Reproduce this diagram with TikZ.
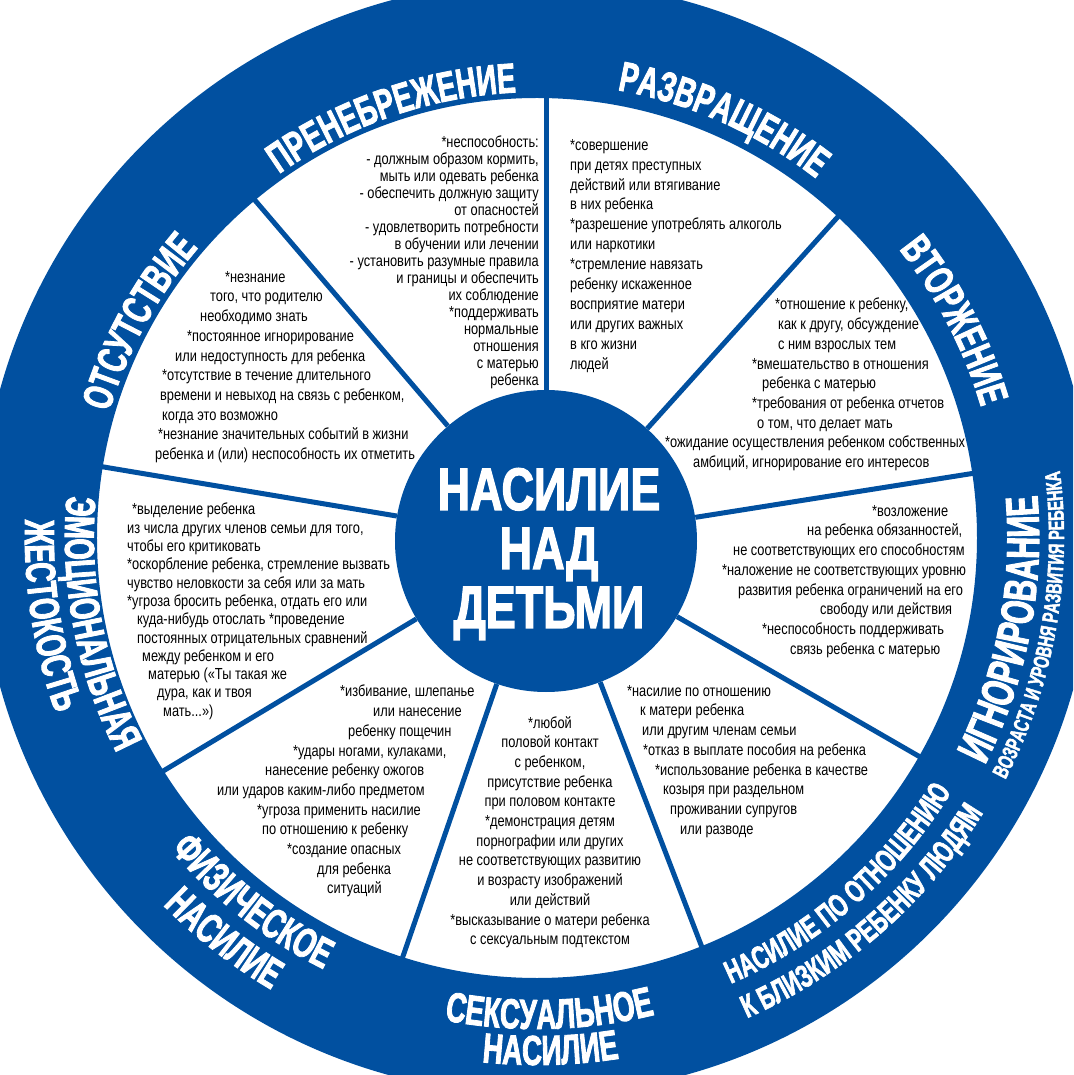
\documentclass[tikz,border=0pt]{standalone}
\usepackage{fontspec}
\setmainfont{Liberation Sans}[FakeStretch=0.8]
\newfontfamily\ringfont{Liberation Sans}[FakeStretch=0.66, FakeBold=2]
\newfontfamily\hubfont{Liberation Sans}[FakeStretch=0.75, FakeBold=2]
\usepackage{tikz}
\usetikzlibrary{decorations.text}
\definecolor{wheelblue}{RGB}{1,80,160}
\newcommand{\ringbig}{\color{white}\ringfont\bfseries\fontsize{42}{42}\selectfont}
\newcommand{\ringhuge}{\color{white}\ringfont\bfseries\fontsize{46}{46}\selectfont}
\newcommand{\ringmid}{\color{white}\ringfont\bfseries\fontsize{32}{32}\selectfont}
\newcommand{\ringsmall}{\color{white}\ringfont\bfseries\fontsize{22}{22}\selectfont}
\tikzset{
	spoke/.style={draw=wheelblue, line width=5pt},
	hub/.style={circle, fill=wheelblue, inner sep=0pt, minimum size=302pt},
	hubtext/.style={inner sep=0pt, text=white, align=center, font=\hubfont\bfseries\fontsize{60}{59}\selectfont},
	sectortext/.style={inner sep=0pt, text=black, font=\fontsize{16}{19.7}\selectfont},
	ringlabel/.style={decorate, decoration={text along path, text align=center, text={#1}}},
}

\begin{document}
\begin{tikzpicture}[x=1pt, y=1pt]
		\useasboundingbox (-537,-537) rectangle (536,538);
		\clip (-537,-537) rectangle (536,538);
		\node[hub] (hub) at (9,-3) {};
		\node[hubtext] (title) at (12,-16) {НАСИЛИЕ\\НАД\\ДЕТЬМИ};
		\foreach \a in {130.5,90,48,9,-30,-69,-109,-149,170.5}
			\draw[spoke] (hub) -- ++(\a:480);
		\fill[wheelblue, even odd rule] (0,0) circle (557pt) (0,0) circle (440pt);
		% upper labels, read clockwise
		\path[ringlabel={|\ringbig|ПРЕНЕБРЕЖЕНИЕ}] (154:446) arc[start angle=154, end angle=64, radius=446pt];
		\path[ringlabel={|\ringbig|РАЗВРАЩЕНИЕ}] (111:455) arc[start angle=111, end angle=21, radius=455pt];
		\path[ringlabel={|\ringbig|ВТОРЖЕНИЕ}] (72.5:463) arc[start angle=72.5, end angle=-17.5, radius=463pt];
		\path[ringlabel={|\ringbig|ОТСУТСТВИЕ}] (196.5:446) arc[start angle=196.5, end angle=106.5, radius=446pt];
		% lower labels, read counterclockwise
		\path[ringlabel={|\ringhuge|ИГНОРИРОВАНИЕ}] (-56:502) arc[start angle=-56, end angle=34, radius=502pt];
		\path[ringlabel={|\ringsmall|ВОЗРАСТА И УРОВНЯ РАЗВИТИЯ РЕБЕНКА}] (-55:527) arc[start angle=-55, end angle=35, radius=527pt];
		\path[ringlabel={|\ringmid|НАСИЛИЕ ПО ОТНОШЕНИЮ}] (-94:486) arc[start angle=-94, end angle=-4, radius=486pt];
		\path[ringlabel={|\ringmid|К БЛИЗКИМ РЕБЕНКУ ЛЮДЯМ}] (-94:524) arc[start angle=-94, end angle=-4, radius=524pt];
		\path[ringlabel={|\ringbig|СЕКСУАЛЬНОЕ}] (-133.5:491) arc[start angle=-133.5, end angle=-43.5, radius=491pt];
		\path[ringlabel={|\ringbig|НАСИЛИЕ}] (-133.5:527) arc[start angle=-133.5, end angle=-43.5, radius=527pt];
		\path[ringlabel={|\ringbig|ФИЗИЧЕСКОЕ}] (-173:481) arc[start angle=-173, end angle=-83, radius=481pt];
		\path[ringlabel={|\ringbig|НАСИЛИЕ}] (-173:524) arc[start angle=-173, end angle=-83, radius=524pt];
		\path[ringlabel={|\ringbig|ЭМОЦИОНАЛЬНАЯ}] (-214:472) arc[start angle=-214, end angle=-124, radius=472pt];
		\path[ringlabel={|\ringbig|ЖЕСТОКОСТЬ}] (-216:512) arc[start angle=-216, end angle=-126, radius=512pt];
		% sector texts
		\node[sectortext, anchor=north west, align=left] (otsut) at (-382,267) {%
			\hspace*{70pt}*незнание\\
			\hspace*{55pt}того, что родителю\\
			\hspace*{45pt}необходимо знать\\
			\hspace*{32pt}*постоянное игнорирование\\
			\hspace*{20pt}или недоступность для ребенка\\
			\hspace*{7pt}*отсутствие в течение длительного\\
			\hspace*{5pt}времени и невыход на связь с ребенком,\\
			\hspace*{7pt}когда это возможно\\
			\hspace*{3pt}*незнание значительных событий в жизни\\
			ребенка и (или) неспособность их отметить};
		\node[sectortext, anchor=north east, align=right, font=\fontsize{16}{17}\selectfont] (prenebr) at (2,402) {%
			*неспособность:\\
			- должным образом кормить,\\
			мыть или одевать ребенка\\
			- обеспечить должную защиту\\
			от опасностей\\
			- удовлетворить потребности\\
			в обучении или лечении\\
			- установить разумные правила\\
			и границы и обеспечить\\
			их соблюдение\\
			*поддерживать\\
			нормальные\\
			отношения\\
			с матерью\\
			ребенка};
		\node[sectortext, anchor=north west, align=left, font=\fontsize{16}{19.9}\selectfont] (razvr) at (33,399) {%
			*совершение\\
			при детях преступных\\
			действий или втягивание\\
			в них ребенка\\
			*разрешение употреблять алкоголь\\
			или наркотики\\
			*стремление навязать\\
			ребенку искаженное\\
			восприятие матери\\
			или других важных\\
			в кго жизни\\
			людей};
		\node[sectortext, anchor=north west, align=left] (vtorzh) at (128,240) {%
			\hspace*{110pt}*отношение к ребенку,\\
			\hspace*{113pt}как к другу, обсуждение\\
			\hspace*{113pt}с ним взрослых тем\\
			\hspace*{87pt}*вмешательство в отношения\\
			\hspace*{97pt}ребенка с матерью\\
			\hspace*{87pt}*требования от ребенка отчетов\\
			\hspace*{92pt}о том, что делает мать\\
			*ожидание осуществления ребенком собственных\\
			\hspace*{28pt}амбиций, игнорирование его интересов};
		\node[sectortext, anchor=north west, align=left] (ignor) at (185,33) {%
			\hspace*{150pt}*возложение\\
			\hspace*{85pt}на ребенка обязанностей,\\
			\hspace*{11pt}не соответствующих его способностям\\
			*наложение не соответствующих уровню\\
			\hspace*{16pt}развития ребенка ограничений на его\\
			\hspace*{98pt}свободу или действия\\
			\hspace*{40pt}*неспособность поддерживать\\
			\hspace*{68pt}связь ребенка с матерью};
		\node[sectortext, anchor=north west, align=left] (blizkim) at (90,-147) {%
			*насилие по отношению\\
			\hspace*{13pt}к матери ребенка\\
			\hspace*{15pt}или другим членам семьи\\
			\hspace*{16pt}*отказ в выплате пособия на ребенка\\
			\hspace*{28pt}*использование ребенка в качестве\\
			\hspace*{36pt}козыря при раздельном\\
			\hspace*{43pt}проживании супругов\\
			\hspace*{53pt}или разводе};
		\node[sectortext, anchor=north, align=center] (seks) at (13,-178) {%
			*любой\\
			половой контакт\\
			с ребенком,\\
			присутствие ребенка\\
			при половом контакте\\
			*демонстрация детям\\
			порнографии или других\\
			не соответствующих развитию\\
			и возрасту изображений\\
			или действий\\
			*высказывание о матери ребенка\\
			с сексуальным подтекстом};
		\node[sectortext, anchor=north west, align=left] (fizich) at (-320,-147) {%
			\hspace*{123pt}*избивание, шлепанье\\
			\hspace*{156pt}или нанесение\\
			\hspace*{131pt}ребенку пощечин\\
			\hspace*{76pt}*удары ногами, кулаками,\\
			\hspace*{48pt}нанесение ребенку ожогов\\
			или ударов каким-либо предметом\\
			\hspace*{40pt}*угроза применить насилие\\
			\hspace*{45pt}по отношению к ребенку\\
			\hspace*{70pt}*создание опасных\\
			\hspace*{100pt}для ребенка\\
			\hspace*{110pt}ситуаций};
		\node[sectortext, anchor=north west, align=left, font=\fontsize{16}{18.3}\selectfont] (emoc) at (-410,35) {%
			\hspace*{5pt}*выделение ребенка\\
			из числа других членов семьи для того,\\
			чтобы его критиковать\\
			*оскорбление ребенка, стремление вызвать\\
			чувство неловкости за себя или за мать\\
			*угроза бросить ребенка, отдать его или\\
			\hspace*{10pt}куда-нибудь отослать *проведение\\
			\hspace*{10pt}постоянных отрицательных сравнений\\
			\hspace*{15pt}между ребенком и его\\
			\hspace*{21pt}матерью («Ты такая же\\
			\hspace*{30pt}дура, как и твоя\\
			\hspace*{36pt}мать...»)};
\end{tikzpicture}
\end{document}
